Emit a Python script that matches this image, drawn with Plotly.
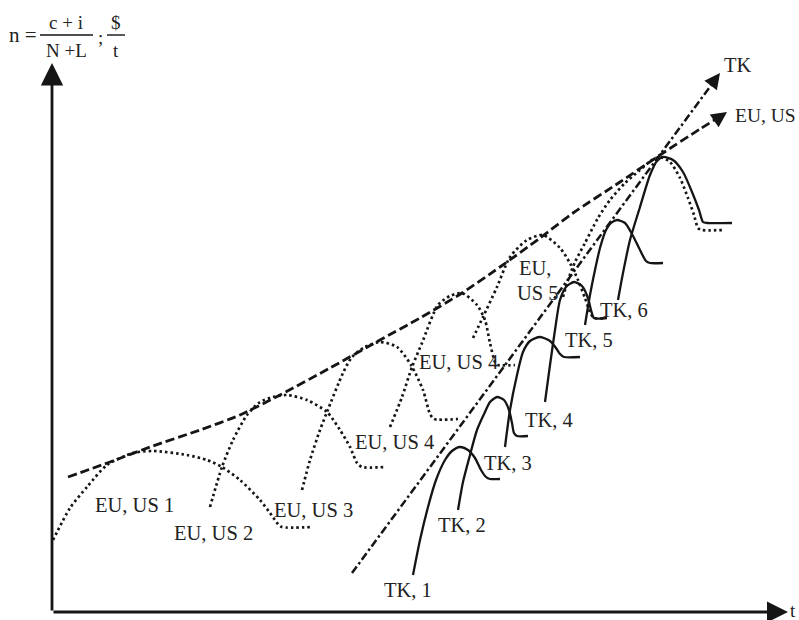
import plotly.graph_objects as go

# ---- data (diagram units: x = time, y = n) ----
env_x = [68, 110, 150, 200, 240, 280, 330, 380, 420, 462, 500, 540, 573, 620, 660, 700, 716]
env_y = [143, 158, 173, 190, 205, 225, 252, 280, 302, 327, 353, 382, 407, 438, 465, 491, 501]

tk_line_x = [352, 712]
tk_line_y = [47, 536]

eu1_x = [53, 70, 87, 107, 133, 153, 187, 207, 222, 240, 260, 270, 278, 282, 313]
eu1_y = [80, 112, 133, 155, 167, 169, 165, 160, 153, 140, 120, 107, 96, 93, 93]
eu2_x = [210, 222, 233, 247, 260, 273, 287, 307, 327, 340, 350, 357, 362, 385]
eu2_y = [113, 153, 180, 205, 218, 223, 225, 220, 208, 190, 173, 157, 153, 153]
eu3_x = [302, 310, 320, 327, 343, 352, 365, 380, 397, 411, 423, 430, 434, 458]
eu3_y = [130, 160, 190, 208, 247, 263, 273, 278, 273, 255, 230, 206, 201, 201]
eu4_x = [390, 402, 412, 422, 438, 450, 462, 477, 485, 490, 495, 498, 515]
eu4_y = [193, 223, 253, 277, 315, 324, 327, 315, 300, 277, 258, 255, 255]
eu5_x = [473, 483, 497, 510, 527, 543, 560, 570, 578, 585, 590, 594, 606]
eu5_y = [282, 303, 333, 363, 380, 385, 372, 357, 340, 322, 308, 302, 302]
eu6_x = [563, 568, 575, 585, 598, 610, 625, 640, 652, 660, 670, 680, 688, 694, 698, 702, 723]
eu6_y = [323, 340, 358, 377, 402, 420, 437, 450, 460, 463, 458, 442, 422, 405, 392, 390, 390]

tk1_x = [413, 420, 428, 436, 445, 452, 460, 468, 475, 481, 486, 490, 500]
tk1_y = [45, 80, 113, 140, 160, 169, 173, 170, 162, 150, 143, 141, 141]
tk2_x = [458, 463, 470, 477, 485, 490, 497, 504, 509, 512, 514, 517, 528]
tk2_y = [110, 138, 165, 190, 208, 218, 223, 220, 210, 197, 187, 184, 184]
tk3_x = [505, 510, 517, 523, 530, 540, 550, 556, 560, 564, 580]
tk3_y = [173, 210, 245, 268, 279, 283, 279, 272, 266, 263, 263]
tk4_x = [545, 550, 555, 560, 566, 574, 582, 588, 591, 594, 607]
tk4_y = [218, 255, 290, 320, 333, 338, 334, 322, 310, 302, 302]
tk5_x = [585, 590, 595, 600, 606, 611, 617, 625, 632, 640, 646, 650, 663]
tk5_y = [295, 325, 350, 372, 390, 397, 400, 397, 386, 370, 359, 357, 357]
tk6_x = [618, 623, 630, 640, 650, 657, 663, 673, 683, 692, 699, 703, 707, 732]
tk6_y = [320, 347, 380, 413, 445, 459, 463, 460, 448, 428, 410, 398, 397, 397]

eu_labels = ["EU, US 1", "EU, US 2", "EU, US 3", "EU, US 4", "EU, US 4", "EU,", "US 5"]
eu_label_x = [134, 213, 313, 394, 458, 535, 538]
eu_label_y = [115, 87, 110, 178, 258, 352, 327]
tk_labels = ["TK, 1", "TK, 2", "TK, 3", "TK, 4", "TK, 5", "TK, 6"]
tk_label_x = [408, 462, 508, 549, 589, 624]
tk_label_y = [30, 95, 157, 200, 280, 310]

INK = "#151515"
TXT = "#222222"
FONT = "Liberation Serif"

fig = go.Figure()

def add_curve(x, y, dash, width=2.2, shape="spline"):
    fig.add_trace(go.Scatter(
        x=x, y=y, mode="lines",
        line=dict(color=INK, width=width, dash=dash, shape=shape, smoothing=0.7),
        hoverinfo="skip", showlegend=False))

# envelope and TK trend
add_curve(env_x, env_y, "9px,4px", width=2.8)
add_curve(tk_line_x, tk_line_y, "8px,3px,2.5px,3px", width=2.5, shape="linear")

for xs, ys in [(eu1_x, eu1_y), (eu2_x, eu2_y), (eu3_x, eu3_y),
               (eu4_x, eu4_y), (eu5_x, eu5_y), (eu6_x, eu6_y)]:
    add_curve(xs, ys, "2.5px,3px", width=2.7)

for xs, ys in [(tk1_x, tk1_y), (tk2_x, tk2_y), (tk3_x, tk3_y),
               (tk4_x, tk4_y), (tk5_x, tk5_y), (tk6_x, tk6_y)]:
    add_curve(xs, ys, "solid", width=2.3)

# axes with arrows
ann = []
ann.append(dict(x=52, y=557, ax=52, ay=8, xref="x", yref="y", axref="x", ayref="y",
                text="", showarrow=True, arrowhead=2, arrowsize=1.6, arrowwidth=2.8,
                arrowcolor=INK))
ann.append(dict(x=788, y=8, ax=52, ay=8, xref="x", yref="y", axref="x", ayref="y",
                text="", showarrow=True, arrowhead=2, arrowsize=1.5, arrowwidth=2.8,
                arrowcolor=INK))
# arrows at ends of trend lines
ann.append(dict(x=727, y=508, ax=714, ay=499, xref="x", yref="y", axref="x", ayref="y",
                text="", showarrow=True, arrowhead=2, arrowsize=1.3, arrowwidth=2.4,
                arrowcolor=INK))
ann.append(dict(x=720, y=547, ax=711, ay=535, xref="x", yref="y", axref="x", ayref="y",
                text="", showarrow=True, arrowhead=2, arrowsize=1.3, arrowwidth=2.4,
                arrowcolor=INK))

def label(t, x, y, size=20.5, xanchor="center"):
    ann.append(dict(x=x, y=y, xref="x", yref="y", text=t, showarrow=False,
                    xanchor=xanchor, yanchor="middle",
                    font=dict(family=FONT, size=size, color=TXT)))

for t, x, y in zip(eu_labels, eu_label_x, eu_label_y):
    label(t, x, y)
for t, x, y in zip(tk_labels, tk_label_x, tk_label_y):
    label(t, x, y)

label("TK", 722, 555, xanchor="left")
label("EU, US", 798, 505, size=19.5, xanchor="right")
label("t", 798, 10, size=19, xanchor="right")

# axis title (formula)
label("n =", 23, 585, size=21)
label("c + i", 66, 598, size=19)
label("N +L", 66, 570, size=19)
label(";", 100, 583, size=19)
label("$", 116, 598, size=19)
label("t", 116, 570, size=19)

fig.update_layout(
    annotations=ann,
    shapes=[
        dict(type="line", xref="x", yref="y", x0=40, x1=93, y0=585, y1=585,
             line=dict(color=INK, width=1.4)),
        dict(type="line", xref="x", yref="y", x0=107, x1=125, y0=585, y1=585,
             line=dict(color=INK, width=1.4)),
    ],
    width=799, height=620,
    margin=dict(l=0, r=0, t=0, b=0),
    paper_bgcolor="white", plot_bgcolor="white",
    xaxis=dict(range=[0, 799], visible=False, fixedrange=True),
    yaxis=dict(range=[0, 620], visible=False, fixedrange=True),
    showlegend=False,
)

fig.write_html(
    "out.html",
    config={"displayModeBar": False},
    post_script="document.body.style.margin='0';document.body.style.overflow='hidden';",
)
